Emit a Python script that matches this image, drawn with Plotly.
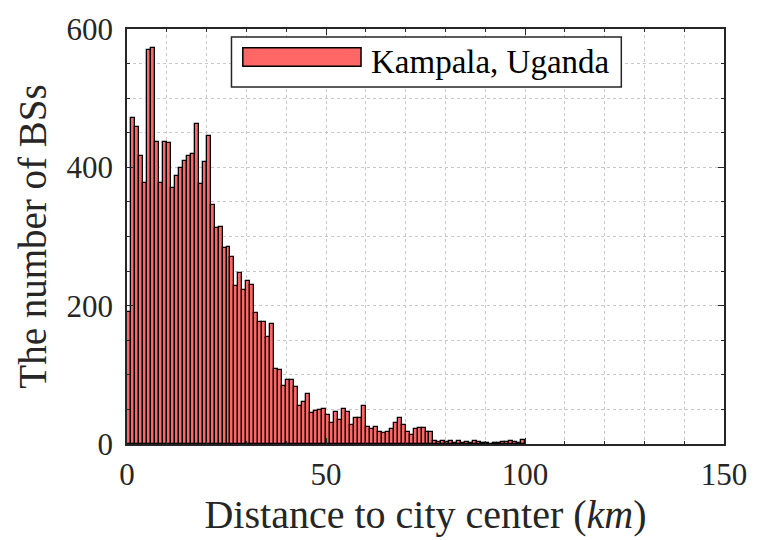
import plotly.graph_objects as go

# Histogram counts per 1-km bin, bins [0,1), [1,2), ... [99,100)
bin_start = list(range(100))
counts = [
    191, 471, 458, 416, 378, 570, 572, 437, 378, 437,
    435, 370, 388, 399, 409, 416, 419, 462, 376, 408,
    446, 346, 313, 314, 284, 285, 271, 228, 247, 222,
    236, 230, 190, 177, 177, 154, 173, 109, 107, 84,
    93, 92, 83, 55, 61, 73, 45, 48, 49, 51,
    42, 31, 46, 34, 51, 46, 27, 37, 37, 55,
    25, 21, 24, 18, 16, 18, 21, 30, 37, 28,
    18, 13, 21, 23, 23, 17, 17, 5, 3, 4,
    3, 4, 2, 4, 2, 3, 2, 5, 3, 2,
    2, 0, 1, 2, 3, 3, 4, 3, 2, 6,
]
series_name = "Kampala, Uganda"
x_ticks = [0, 50, 100, 150]
y_ticks = [0, 200, 400, 600]

bar_color = "#FF6666"
font_family = "Liberation Serif"
ink = "#262626"

fig = go.Figure()
fig.add_trace(go.Bar(
    x=[b + 0.5 for b in bin_start],
    y=counts,
    width=1,
    marker=dict(color=bar_color, line=dict(color="black", width=1.3)),
    name=series_name,
    showlegend=False,
))

axis_common = dict(
    showline=True, linecolor=ink, linewidth=1.5, mirror="ticks",
    ticks="inside", ticklen=6, tickwidth=1, tickcolor=ink,
    showgrid=True, gridcolor="#c8c8c8", griddash="dot", gridwidth=1,
    zeroline=False,
    tickfont=dict(family=font_family, size=31, color=ink),
)

fig.update_xaxes(
    range=[0, 150], tickvals=x_ticks,
    minor=dict(dtick=10, ticks="inside", ticklen=3, tickcolor=ink,
               showgrid=True, gridcolor="#c8c8c8", griddash="dot"),
    title=dict(text="Distance to city center (<i>km</i>)",
               font=dict(family=font_family, size=40, color=ink), standoff=6),
    ticklabelstandoff=2,
    **axis_common,
)
fig.update_yaxes(
    range=[0, 600], tickvals=y_ticks,
    minor=dict(dtick=50, ticks="inside", ticklen=3, tickcolor=ink,
               showgrid=True, gridcolor="#c8c8c8", griddash="dot"),
    title=dict(text="The number of BSs",
               font=dict(family=font_family, size=39, color=ink), standoff=8),
    ticklabelstandoff=6,
    **axis_common,
)

# Legend box drawn in paper coordinates
fig.add_shape(type="rect", xref="paper", yref="paper",
              x0=0.175, x1=0.828, y0=0.860, y1=0.981,
              line=dict(color=ink, width=1.5), fillcolor="white", layer="above")
fig.add_shape(type="rect", xref="paper", yref="paper",
              x0=0.194, x1=0.392, y0=0.910, y1=0.955,
              line=dict(color="black", width=1.5), fillcolor=bar_color, layer="above")
fig.add_annotation(xref="paper", yref="paper", x=0.405, y=0.921,
                   xanchor="left", yanchor="middle", showarrow=False,
                   text=series_name,
                   font=dict(family=font_family, size=33, color="black"))

fig.update_layout(
    width=759, height=540,
    margin=dict(l=127, r=29, t=24, b=96),
    paper_bgcolor="white", plot_bgcolor="white",
    bargap=0, showlegend=False,
)

fig.write_html("out.html")
